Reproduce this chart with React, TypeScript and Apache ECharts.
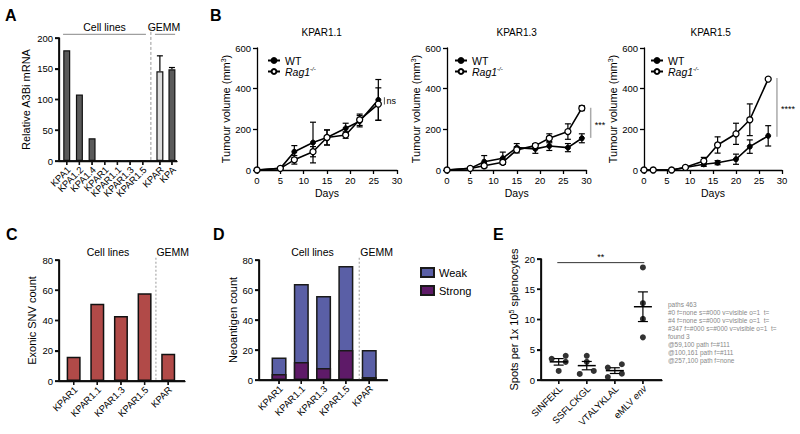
import React, { useEffect, useRef } from 'react';
import * as echarts from 'echarts';

const FONT = '"Liberation Sans", Arial, Helvetica, sans-serif';

// ---------- Panel A ----------
const aLabels = ['KPA1', 'KPA1.2', 'KPA1.4', 'KPAR1', 'KPAR1.1', 'KPAR1.3', 'KPAR1.5', 'KPAR', 'KPA'];
const aPositions = [0, 1, 2, 3, 4, 5, 6, 7.35, 8.3];
const aValues = [180, 108, 37, 0, 0, 0, 0, 146, 149];
const aErrors = [0, 0, 0, 0, 0, 0, 0, 25, 3];
const aColors = ['#5a5a5a', '#5a5a5a', '#5a5a5a', '#5a5a5a', '#5a5a5a', '#5a5a5a', '#5a5a5a', '#dcdcdc', '#5a5a5a'];

// ---------- Panel B ----------
const b1Days = [0, 5, 8, 12, 15, 19, 22, 26];
const b1WT = [0, 8, 90, 135, 160, 205, 240, 345];
const b1WTErr = [0, 3, 30, 100, 37, 25, 28, 100];
const b1Rag = [0, 8, 50, 90, 160, 172, 247, 324];
const b1RagErr = [0, 3, 21, 25, 37, 16, 28, 80];

const b2Days = [0, 5, 8, 12, 15, 19, 22, 26, 29];
const b2WT = [0, 8, 41, 58, 110, 104, 118, 110, 156];
const b2WTErr = [0, 3, 30, 30, 20, 22, 22, 20, 22];
const b2Rag = [0, 8, 21, 38, 99, 120, 156, 189, 304];
const b2RagErr = [0, 3, 8, 10, 15, 10, 22, 38, 12];

const b3Days = [0, 2, 6, 9, 13, 16, 20, 23, 27];
const b3WT = [0, 0, 0, 12, 28, 36, 53, 115, 168];
const b3WTErr = [0, 0, 0, 3, 10, 10, 25, 33, 50];
const b3Rag = [0, 0, 0, 13, 44, 123, 178, 247, 447];
const b3RagErr = [0, 0, 0, 4, 18, 40, 52, 78, 0];

const bTitles = ['KPAR1.1', 'KPAR1.3', 'KPAR1.5'];
const bSig = ['ns', '***', '****'];

// ---------- Panel C ----------
const cLabels = ['KPAR1', 'KPAR1.1', 'KPAR1.3', 'KPAR1.5', 'KPAR'];
const cPositions = [0, 1, 2, 3, 4];
const cValues = [16, 51, 43, 58, 18];

// ---------- Panel D ----------
const dLabels = ['KPAR1', 'KPAR1.1', 'KPAR1.3', 'KPAR1.5', 'KPAR'];
const dPositions = [0, 1, 2, 3, 4.05];
const dStrong = [4, 12, 8, 20, 2];
const dWeak = [11, 52, 48, 56, 18];

// ---------- Panel E ----------
const eLabels = ['SINFEKL', 'SSFLCKGL', 'VTALYKLAL', 'eMLV env'];
const ePositions = [0, 1, 2, 3];
const eSINFEKL = [3.5, 4.0, 3.0, 1.5];
const eSSFLCKGL = [4.0, 1.0, 1.5, 3.0];
const eVTALYKLAL = [2.05, 2.6, 0.5, 1.05];
const eMLVenv = [18.6, 12.7, 10.1, 7.05];
const eJitter = [
  [-0.25, 0.25, 0.25, 0],
  [0, -0.25, 0.25, 0],
  [-0.25, 0.25, -0.25, 0.25],
  [0, 0, 0, 0],
];

// y-axis scales
const yScaleA = { max: 200, interval: 50 };
const yScaleC = { max: 80, interval: 20 };
const yScaleD = { max: 80, interval: 20 };
const yScaleE = { max: 20, interval: 5 };

const BLACK = '#000';
const AXIS_W = 1.3;

// layout of the seven plot areas
const GRIDS = [
  { left: 59, top: 38, width: 118, height: 123 },
  { left: 257, top: 48, width: 140, height: 122 },
  { left: 447, top: 48, width: 139.5, height: 122 },
  { left: 644, top: 48, width: 138, height: 122 },
  { left: 59, top: 260, width: 126, height: 121 },
  { left: 259, top: 260, width: 128.5, height: 120 },
  { left: 541, top: 259, width: 121, height: 121 },
];

function yAxis(grid: number, max: number, interval: number, name: string, nameGap: number, rich?: any) {
  return {
    type: 'value',
    gridIndex: grid,
    min: 0,
    max,
    interval,
    name,
    nameLocation: 'middle',
    nameGap,
    nameTextStyle: { fontFamily: FONT, fontSize: 11, color: BLACK, rich },
    axisLine: { show: true, onZero: false, lineStyle: { color: BLACK, width: AXIS_W } },
    axisTick: { show: true, length: 4, lineStyle: { color: BLACK, width: AXIS_W } },
    axisLabel: { fontFamily: FONT, fontSize: 9.5, color: BLACK, margin: 6 },
    splitLine: { show: false },
  };
}

function plainXAxis(grid: number, min: number, max: number) {
  return {
    type: 'value',
    gridIndex: grid,
    min,
    max,
    axisLine: { show: true, onZero: false, lineStyle: { color: BLACK, width: AXIS_W } },
    axisTick: { show: false },
    axisLabel: { show: false },
    splitLine: { show: false },
  };
}

function daysAxis(grid: number) {
  return {
    type: 'value',
    gridIndex: grid,
    min: 0,
    max: 30,
    interval: 5,
    name: 'Days',
    nameLocation: 'middle',
    nameGap: 17,
    nameTextStyle: { fontFamily: FONT, fontSize: 10.5, color: BLACK },
    axisLine: { show: true, onZero: false, lineStyle: { color: BLACK, width: AXIS_W } },
    axisTick: { show: true, length: 4, lineStyle: { color: BLACK, width: AXIS_W } },
    axisLabel: { fontFamily: FONT, fontSize: 9.5, color: BLACK, margin: 5 },
    splitLine: { show: false },
  };
}

function errSeries(idx: number, xs: number[], ys: number[], errs: number[], cap: number, upperOnly = false) {
  return {
    type: 'custom',
    xAxisIndex: idx,
    yAxisIndex: idx,
    silent: true,
    z: 2,
    clip: false,
    encode: { x: 0, y: 1 },
    data: xs.map((x, i) => [x, ys[i], errs[i]]),
    renderItem: (_p: any, api: any) => {
      const x = api.value(0);
      const y = api.value(1);
      const e = api.value(2);
      if (!e) return { type: 'group', children: [] };
      const top = api.coord([x, y + e]);
      const bot = api.coord(upperOnly ? [x, y] : [x, y - e]);
      const st = { stroke: BLACK, lineWidth: 1.2 };
      const ch: any[] = [
        { type: 'line', shape: { x1: top[0], y1: top[1], x2: bot[0], y2: bot[1] }, style: st },
        { type: 'line', shape: { x1: top[0] - cap, y1: top[1], x2: top[0] + cap, y2: top[1] }, style: st },
      ];
      if (!upperOnly) ch.push({ type: 'line', shape: { x1: bot[0] - cap, y1: bot[1], x2: bot[0] + cap, y2: bot[1] }, style: st });
      return { type: 'group', children: ch };
    },
  };
}

function axisFrameSeries(idx: number, yScale: { max: number; interval: number }, positions: number[]) {
  return {
    type: 'custom',
    xAxisIndex: idx,
    yAxisIndex: idx,
    silent: true,
    clip: false,
    z: 10,
    encode: { x: 0, y: 1 },
    data: [[positions[0], 0]],
    renderItem: (params: any, api: any) => {
      const cs = params.coordSys;
      const x0 = cs.x;
      const x1 = cs.x + cs.width;
      const y0 = cs.y + cs.height;
      const yTop = cs.y;
      const st = { stroke: BLACK, lineWidth: AXIS_W };
      const ch: any[] = [
        { type: 'line', shape: { x1: x0 - AXIS_W / 2, y1: y0, x2: x1, y2: y0 }, style: st },
        { type: 'line', shape: { x1: x0, y1: y0, x2: x0, y2: yTop }, style: st },
      ];
      for (let v = 0; v <= yScale.max + 1e-9; v += yScale.interval) {
        const yy = api.coord([positions[0], v])[1];
        ch.push({ type: 'line', shape: { x1: x0 - 4, y1: yy, x2: x0, y2: yy }, style: st });
      }
      positions.forEach((p) => {
        const cx = api.coord([p, 0])[0];
        ch.push({ type: 'line', shape: { x1: cx, y1: y0, x2: cx, y2: y0 + 4 }, style: st });
      });
      return { type: 'group', children: ch };
    },
  };
}

function lineSeries(idx: number, name: string, days: number[], vals: number[], open: boolean) {
  return {
    type: 'line',
    name,
    xAxisIndex: idx,
    yAxisIndex: idx,
    data: days.map((d, i) => [d, vals[i]]),
    symbol: 'circle',
    symbolSize: open ? 6 : 5,
    itemStyle: open ? { color: '#fff', borderColor: BLACK, borderWidth: 1.3 } : { color: BLACK, borderColor: BLACK, borderWidth: 1 },
    lineStyle: { color: BLACK, width: 1.6 },
    z: open ? 4 : 3,
  };
}

function bLegend(left: number) {
  return {
    data: ['WT', 'Rag1'],
    left,
    top: 50,
    orient: 'vertical',
    itemWidth: 12,
    itemHeight: 6,
    itemGap: 0,
    selectedMode: false,
    textStyle: {
      fontFamily: FONT,
      fontSize: 10.5,
      color: BLACK,
      lineHeight: 11,
      rich: {
        i: { fontFamily: FONT, fontSize: 10.5, fontStyle: 'italic', color: BLACK, lineHeight: 11 },
        s: { fontFamily: FONT, fontSize: 6, fontStyle: 'italic', color: BLACK, verticalAlign: 'top', lineHeight: 11 },
      },
    },
    formatter: (n: string) => (n === 'Rag1' ? '{i|Rag1}{s|-/-}' : n),
  };
}

const tumourRich = { s: { fontFamily: FONT, fontSize: 7, color: BLACK, verticalAlign: 'top' } };

export default function App() {
  const ref = useRef<HTMLDivElement>(null);
  useEffect(() => {
    if (!ref.current) return;
    const chart = echarts.init(ref.current, null, { renderer: 'svg' });

    const eGroups = [eSINFEKL, eSSFLCKGL, eVTALYKLAL, eMLVenv];
    const eMeans = eGroups.map((g) => g.reduce((a, b) => a + b, 0) / g.length);
    const eSems = eGroups.map((g, k) => {
      const m = eMeans[k];
      const sd = Math.sqrt(g.reduce((a, b) => a + (b - m) * (b - m), 0) / (g.length - 1));
      return sd / Math.sqrt(g.length);
    });
    const ePoints: number[][] = [];
    eGroups.forEach((g, k) => g.forEach((v, j) => ePoints.push([ePositions[k] + eJitter[k][j], v])));
    const dTotal = dWeak.map((w, i) => w + dStrong[i]);

    const option: any = {
      animation: false,
      textStyle: { fontFamily: FONT },
      grid: GRIDS.map((gr) => ({ ...gr })),
      xAxis: [
        plainXAxis(0, -0.61, 8.7),
        daysAxis(1),
        daysAxis(2),
        daysAxis(3),
        plainXAxis(4, -0.62, 4.71),
        plainXAxis(5, -0.9, 4.87),
        plainXAxis(6, -0.63, 3.68),
      ],
      yAxis: [
        yAxis(0, yScaleA.max, yScaleA.interval, 'Relative A3Bi mRNA', 28),
        yAxis(1, 600, 200, 'Tumour volume (mm{s|3})', 22, tumourRich),
        yAxis(2, 600, 200, 'Tumour volume (mm{s|3})', 19, tumourRich),
        yAxis(3, 600, 200, 'Tumour volume (mm{s|3})', 20, tumourRich),
        yAxis(4, yScaleC.max, yScaleC.interval, 'Exonic SNV count', 22),
        yAxis(5, yScaleD.max, yScaleD.interval, 'Neoantigen count', 16),
        yAxis(6, yScaleE.max, yScaleE.interval, '{n|Spots per 1x 10}{s|5}{n| splenocytes}', 22, {
          n: { fontFamily: FONT, fontSize: 11, color: BLACK },
          s: { fontFamily: FONT, fontSize: 7, color: BLACK, verticalAlign: 'top' },
        }),
      ],
      legend: [
        bLegend(262),
        bLegend(449),
        bLegend(645),
        {
          data: ['Weak', 'Strong'],
          left: 415,
          top: 262,
          orient: 'vertical',
          icon: 'rect',
          itemWidth: 13,
          itemHeight: 9,
          itemGap: 7,
          selectedMode: false,
          textStyle: { fontFamily: FONT, fontSize: 11, color: BLACK },
        },
      ],
      series: [
        {
          type: 'bar',
          xAxisIndex: 0,
          yAxisIndex: 0,
          barWidth: 7,
          clip: false,
          data: aPositions.map((p, i) => ({ value: [p, aValues[i]], itemStyle: { color: aColors[i] } })),
          itemStyle: { borderColor: '#111', borderWidth: 1.2 },
          z: 3,
        },
        errSeries(0, aPositions, aValues, aErrors, 3, true),
        axisFrameSeries(0, yScaleA, aPositions),

        errSeries(1, b1Days, b1WT, b1WTErr, 3),
        errSeries(1, b1Days, b1Rag, b1RagErr, 3),
        lineSeries(1, 'WT', b1Days, b1WT, false),
        lineSeries(1, 'Rag1', b1Days, b1Rag, true),

        errSeries(2, b2Days, b2WT, b2WTErr, 3),
        errSeries(2, b2Days, b2Rag, b2RagErr, 3),
        lineSeries(2, 'WT', b2Days, b2WT, false),
        lineSeries(2, 'Rag1', b2Days, b2Rag, true),

        errSeries(3, b3Days, b3WT, b3WTErr, 3),
        errSeries(3, b3Days, b3Rag, b3RagErr, 3),
        lineSeries(3, 'WT', b3Days, b3WT, false),
        lineSeries(3, 'Rag1', b3Days, b3Rag, true),

        {
          type: 'bar',
          xAxisIndex: 4,
          yAxisIndex: 4,
          barWidth: 14,
          clip: false,
          data: cPositions.map((p, i) => [p, cValues[i]]),
          itemStyle: { color: '#b14a48', borderColor: '#111', borderWidth: 1.5 },
        },
        axisFrameSeries(4, yScaleC, cPositions),

        {
          type: 'bar',
          name: 'Weak',
          xAxisIndex: 5,
          yAxisIndex: 5,
          barWidth: 15,
          barGap: '-100%',
          clip: false,
          data: dPositions.map((p, i) => [p, dTotal[i]]),
          itemStyle: { color: '#5a5fa6', borderColor: '#1a1a1a', borderWidth: 1.5 },
          z: 2,
        },
        {
          type: 'bar',
          name: 'Strong',
          xAxisIndex: 5,
          yAxisIndex: 5,
          barWidth: 15,
          barGap: '-100%',
          clip: false,
          data: dPositions.map((p, i) => [p, dStrong[i]]),
          itemStyle: { color: '#5e1a68', borderColor: '#1a1a1a', borderWidth: 1.5 },
          z: 3,
        },
        axisFrameSeries(5, yScaleD, dPositions),

        {
          type: 'scatter',
          xAxisIndex: 6,
          yAxisIndex: 6,
          symbolSize: 6,
          clip: false,
          data: ePoints,
          itemStyle: { color: BLACK },
          z: 3,
        },
        {
          type: 'custom',
          xAxisIndex: 6,
          yAxisIndex: 6,
          silent: true,
          clip: false,
          z: 4,
          encode: { x: 0, y: 1 },
          data: ePositions.map((p, i) => [p, eMeans[i], eSems[i]]),
          renderItem: (_p: any, api: any) => {
            const x = api.value(0);
            const m = api.value(1);
            const s = api.value(2);
            const c = api.coord([x, m]);
            const t = api.coord([x, m + s]);
            const b = api.coord([x, m - s]);
            const st = { stroke: BLACK, lineWidth: 1.2 };
            return {
              type: 'group',
              children: [
                { type: 'line', shape: { x1: c[0] - 9, y1: c[1], x2: c[0] + 9, y2: c[1] }, style: { stroke: BLACK, lineWidth: 1.5 } },
                { type: 'line', shape: { x1: t[0], y1: t[1], x2: b[0], y2: b[1] }, style: st },
                { type: 'line', shape: { x1: t[0] - 5, y1: t[1], x2: t[0] + 5, y2: t[1] }, style: st },
                { type: 'line', shape: { x1: b[0] - 5, y1: b[1], x2: b[0] + 5, y2: b[1] }, style: st },
              ],
            };
          },
        },
        axisFrameSeries(6, yScaleE, ePositions),
      ],
    };

    chart.setOption(option);

    const px = (i: number, x: number, y: number) =>
      chart.convertToPixel({ xAxisIndex: i, yAxisIndex: i } as any, [x, y]) as number[];

    const txt = (text: string, x: number, y: number, size = 10.5, align = 'center', weight = 'normal', va = 'middle', rot = 0, rich?: any) => ({
      type: 'text',
      silent: true,
      x,
      y,
      rotation: rot,
      z: 50,
      style: {
        text,
        fill: BLACK,
        fontFamily: FONT,
        fontSize: size,
        fontWeight: weight,
        textAlign: align,
        textVerticalAlign: va,
        align,
        verticalAlign: va,
        rich,
      },
    });
    const ln = (x1: number, y1: number, x2: number, y2: number, color: string, width: number, dash?: number[]) => ({
      type: 'line',
      silent: true,
      z: 50,
      shape: { x1, y1, x2, y2 },
      style: { stroke: color, lineWidth: width, lineDash: dash },
    });
    const bar = (x: number, y: number, w: number, h: number) => ({
      type: 'rect',
      silent: true,
      z: 60,
      shape: { x, y, width: w, height: h },
      style: { fill: '#111' },
    });

    const g: any[] = [];

    const catAxes = (idx: number, yScale: { max: number; interval: number }, positions: number[], labels: string[]) => {
      const gr = GRIDS[idx];
      const x0 = gr.left;
      const x1 = gr.left + gr.width;
      const y0 = gr.top + gr.height;
      const yTop = gr.top;
      const hw = AXIS_W / 2;
      g.push(bar(x0 - hw, y0 - hw, x1 - x0 + hw, AXIS_W));
      g.push(bar(x0 - hw, yTop, AXIS_W, y0 - yTop + hw));
      for (let v = 0; v <= yScale.max + 1e-9; v += yScale.interval) {
        const yy = y0 - (gr.height * v) / yScale.max;
        g.push(bar(x0 - 4, yy - hw, 4, AXIS_W));
      }
      positions.forEach((p, i) => {
        const cx = px(idx, p, 0)[0];
        g.push(bar(cx - hw, y0, AXIS_W, 4));
        const l = labels[i];
        const isEnv = l === 'eMLV env';
        g.push(
          txt(isEnv ? '{n|eMLV }{i|env}' : l, cx + 2, y0 + 7, 9.5, 'right', 'normal', 'middle', Math.PI / 4,
            isEnv
              ? {
                  n: { fontFamily: FONT, fontSize: 9.5, fill: BLACK, color: BLACK },
                  i: { fontFamily: FONT, fontSize: 9.5, fill: BLACK, color: BLACK, fontStyle: 'italic' },
                }
              : undefined),
        );
      });
    };
    catAxes(0, yScaleA, aPositions, aLabels);
    catAxes(4, yScaleC, cPositions, cLabels);
    catAxes(5, yScaleD, dPositions, dLabels);
    catAxes(6, yScaleE, ePositions, eLabels);

    g.push(txt('A', 5, 15, 16, 'left', 'bold'));
    g.push(txt('B', 210, 15, 16, 'left', 'bold'));
    g.push(txt('C', 6, 234, 16, 'left', 'bold'));
    g.push(txt('D', 213, 234, 16, 'left', 'bold'));
    g.push(txt('E', 493, 234, 16, 'left', 'bold'));

    {
      const l1 = px(0, -0.29, 206);
      const l2 = px(0, 6.25, 206);
      const m1 = px(0, 6.96, 206);
      const m2 = px(0, 8.55, 206);
      const d1 = px(0, 6.64, 218);
      const d2 = px(0, 6.64, 0);
      g.push(ln(l1[0], l1[1], l2[0], l2[1], '#888', 1));
      g.push(ln(m1[0], m1[1], m2[0], m2[1], '#888', 1));
      g.push(ln(d1[0], d1[1], d2[0], d2[1], '#999', 1, [3, 2]));
      g.push(txt('Cell lines', (l1[0] + l2[0]) / 2, 27, 10.5));
      g.push(txt('GEMM', (m1[0] + m2[0]) / 2 - 1, 27, 10.5));
    }

    const sigDefs = [
      { day: 27.3, y1: 322, y2: 358, ym: 340 },
      { day: 30.9, y1: 306, y2: 158, ym: 232 },
      { day: 28.9, y1: 453, y2: 163, ym: 308 },
    ];
    const titleX = [321.7, 516.7, 710.7];
    [1, 2, 3].forEach((idx, k) => {
      g.push(txt(bTitles[k], titleX[k], 32, 10));
      const s = sigDefs[k];
      const a = px(idx, s.day, s.y1);
      const b = px(idx, s.day, s.y2);
      const m = px(idx, s.day, s.ym);
      g.push(ln(a[0], a[1], b[0], b[1], k === 0 ? '#555' : '#aaa', k === 0 ? 1 : 1.5));
      g.push(txt(bSig[k], m[0] + (k === 0 ? 2 : 4), m[1] + (k === 0 ? 0 : 2), 9, 'left'));
    });

    {
      const d1 = px(4, 3.48, 81.5);
      const d2 = px(4, 3.48, 0);
      g.push(ln(d1[0], d1[1], d2[0], d2[1], '#999', 1, [2, 2]));
      g.push(txt('Cell lines', px(4, 1.45, 0)[0], 252, 10.5));
      g.push(txt('GEMM', px(4, 4.19, 0)[0], 252, 10.5));
    }
    {
      const d1 = px(5, 3.6, 81.5);
      const d2 = px(5, 3.6, 0);
      g.push(ln(d1[0], d1[1], d2[0], d2[1], '#999', 1, [2, 2]));
      g.push(txt('Cell lines', px(5, 1.5, 0)[0], 252, 10.5));
      g.push(txt('GEMM', px(5, 4.38, 0)[0], 252, 10.5));
    }
    {
      const a = px(6, -0.05, 19.4);
      const b = px(6, 3.05, 19.4);
      g.push(ln(a[0], a[1], b[0], b[1], '#333', 1));
      g.push(txt('**', (a[0] + b[0]) / 2, a[1] - 1, 9, 'center', 'normal', 'bottom'));
    }

    chart.setOption({ graphic: g });

    // diagnostic: inspect the drawn SVG near the left axis of panel A
    const timer = setTimeout(() => {
      const root = ref.current;
      if (!root) return;
      const svg = root.querySelector('svg');
      const out: string[] = [];
      if (svg) {
        const paths = Array.from(svg.querySelectorAll('path'));
        out.push('paths ' + paths.length);
        let cnt = 0;
        paths.forEach((p: any, k) => {
          let b: any;
          try {
            b = p.getBBox();
          } catch (e) {
            return;
          }
          if (Math.abs(b.x - 58.5) < 2 && b.height > 100 && b.width < 4 && cnt < 3) {
            cnt++;
            const cs = getComputedStyle(p);
            let clip = '';
            let el: any = p;
            while (el && el !== svg) {
              if (el.getAttribute && el.getAttribute('clip-path')) clip += 'C';
              el = el.parentNode;
            }
            out.push(
              `#${k} f=${p.getAttribute('fill')} s=${p.getAttribute('stroke')} v=${cs.visibility} o=${cs.opacity} ${clip} t=${(p.getAttribute('transform') || '').slice(0, 18)}`,
            );
          }
        });
        out.push('found ' + cnt);
        [[59, 100], [100, 161], [257, 100]].forEach(([x, y]) => {
          const e: any = document.elementFromPoint(x, y);
          out.push(`@${x},${y} ${e ? e.tagName : 'null'} f=${e && e.getAttribute ? e.getAttribute('fill') : ''}`);
        });
      } else {
        out.push('no svg');
      }
      g.push({
        type: 'text',
        silent: true,
        x: 668,
        y: 300,
        z: 100,
        style: { text: out.join('\n'), fill: '#888', fontFamily: FONT, fontSize: 6.5, lineHeight: 8 },
      });
      chart.setOption({ graphic: g });
    }, 300);

    return () => {
      clearTimeout(timer);
      chart.dispose();
    };
  }, []);

  return <div ref={ref} style={{ position: 'absolute', left: 0, top: 0, width: 800, height: 434, background: '#fff' }} />;
}
